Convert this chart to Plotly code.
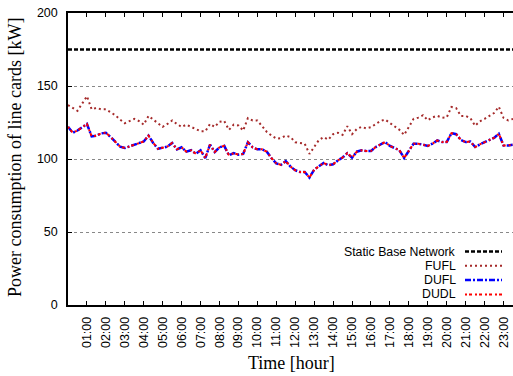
import plotly.graph_objects as go

# time grid: every 15 minutes from 00:00 to 23:30 (hours)
hours = [i * 0.25 for i in range(95)]

static_base = [175] * 95

fufl = [137, 135, 133, 138, 143, 134, 135, 134,
        134, 132, 130, 127, 124.5, 126, 127.5, 126,
        123.5, 129.5, 127, 124.5, 122, 124, 126.4, 124,
        122, 123.5, 122, 120, 119, 119, 124, 122,
        125.5, 126, 120, 123.5, 123, 119.5, 128, 126.4,
        126.4, 122.5, 118.5, 116, 114, 114.3, 116, 115,
        111.5, 111, 110.5, 103.5, 108, 113, 115, 113.3,
        117, 118, 116.5, 122.5, 117, 120.5, 122, 121,
        121.8, 124, 126, 127, 124.5, 122.5, 120, 116.5,
        122.5, 127.5, 128.3, 130, 126.5, 128.5, 129.6, 128.3,
        128.5, 135.6, 134.8, 129.5, 129.5, 128, 122.8, 125.8,
        127.5, 129.5, 131.5, 135.8, 128.2, 126.5, 127.5]

dufl = [122, 118, 119.5, 121.5, 124, 115.5, 116, 117.5,
        118, 115, 112, 108.5, 107.5, 108.5, 110, 111,
        112, 116, 111, 107, 107.5, 108.5, 111, 106.6,
        108, 105, 106, 103.6, 106, 100.7, 109.8, 104.8,
        108, 109, 102.5, 104, 103, 103.5, 111.5, 108,
        106.6, 106.6, 105, 100.5, 97, 96, 98.5, 94.8,
        92.3, 91.1, 91.1, 87.3, 92.7, 95, 97.3, 95.7,
        96.4, 99, 101, 104, 100.9, 105, 105.9, 105.5,
        105.5, 108.2, 110, 111.6, 109, 107.5, 106, 100.7,
        106, 110.5, 110.5, 110, 109, 110.5, 112.7, 111.6,
        111.6, 117.7, 117, 113, 111.6, 112, 108.2, 110,
        111.6, 113.2, 114.5, 117.3, 109.3, 109.3, 109.8]

dudl = [122, 118, 119.5, 121.5, 124, 115.5, 116, 117.5,
        118, 115, 112, 108.5, 107.5, 108.5, 110, 111,
        112, 116, 111, 107, 107.5, 108.5, 111, 106.6,
        108, 105, 106, 103.6, 106, 100.7, 109.8, 104.8,
        108, 109, 102.5, 104, 103, 103.5, 111.5, 108,
        106.6, 106.6, 105, 100.5, 97, 96, 98.5, 94.8,
        92.3, 91.1, 91.1, 87.3, 92.7, 95, 97.3, 95.7,
        96.4, 99, 101, 104, 100.9, 105, 105.9, 105.5,
        105.5, 108.2, 110, 111.6, 109, 107.5, 106, 100.7,
        106, 110.5, 110.5, 110, 109, 110.5, 112.7, 111.6,
        111.6, 117.7, 117, 113, 111.6, 112, 108.2, 110,
        111.6, 113.2, 114.5, 117.3, 109.3, 109.3, 109.8]

tick_hours = list(range(1, 24))
tick_labels = ["%02d:00" % h for h in tick_hours]
y_ticks = [0, 50, 100, 150, 200]

series_names = ["Static Base Network", "FUFL", "DUFL", "DUDL"]
series_colors = ["#000000", "#a52a2a", "#0000ff", "#ff0000"]
series_dash = ["4px,2px", "2px,3px", "6px,2px,2px,2px", "2px,2px,3px,3px"]
series_width = [2.5, 2, 2.5, 2]
series_data = [static_base, fufl, dufl, dudl]

fig = go.Figure()
for name, col, dash, w, ys in zip(series_names, series_colors, series_dash,
                                  series_width, series_data):
    fig.add_trace(go.Scatter(x=hours, y=ys, mode="lines", name=name,
                             line=dict(color=col, dash=dash, width=w),
                             showlegend=False))

# plot area geometry (pixels) for manual legend
L, R, T, B = 68, 513, 13, 305
W, H = R - L, B - T

def px(xp):
    return (xp - L) / W

def py(yp):
    return (B - yp) / H

shapes = []
annotations = []
leg_y = [251.5, 265.8, 280.1, 294.4]
for name, col, dash, w, yy in zip(series_names, series_colors, series_dash,
                                  series_width, leg_y):
    annotations.append(dict(x=px(457), y=py(yy), xref="paper", yref="paper",
                            text=name, showarrow=False, xanchor="right",
                            yanchor="middle", borderpad=0,
                            font=dict(family="Liberation Sans, Arial", size=12.3,
                                      color="black")))
    shapes.append(dict(type="line", xref="paper", yref="paper",
                       x0=px(465), x1=px(502), y0=py(yy), y1=py(yy),
                       line=dict(color=col, dash=dash, width=w)))

annotations.append(dict(x=px(15), y=py(158), xref="paper", yref="paper",
                        text="Power consumption of line cards [kW]",
                        showarrow=False, textangle=-90, xanchor="center",
                        yanchor="middle",
                        font=dict(family="Liberation Serif, Times New Roman",
                                  size=18, color="black")))
annotations.append(dict(x=px(291), y=py(363), xref="paper", yref="paper",
                        text="Time [hour]", showarrow=False, xanchor="center",
                        yanchor="middle",
                        font=dict(family="Liberation Serif, Times New Roman",
                                  size=18, color="black")))

fig.update_layout(
    width=513, height=376,
    margin=dict(l=L, r=513 - R, t=T, b=376 - B, pad=0),
    plot_bgcolor="white", paper_bgcolor="white",
    shapes=shapes, annotations=annotations,
    font=dict(family="Liberation Sans, Arial", size=13, color="black"),
)
fig.update_xaxes(range=[0, 23.5], tickvals=tick_hours, ticktext=tick_labels,
                 tickangle=-90, showline=True, linecolor="black", linewidth=1.5,
                 mirror="ticks", ticks="inside", ticklen=4, tickcolor="black",
                 showgrid=False, zeroline=False, ticklabelstandoff=5,
                 tickfont=dict(family="Liberation Sans, Arial", size=12.5))
fig.update_yaxes(range=[0, 200], tickvals=y_ticks, showline=True,
                 linecolor="black", linewidth=1.5, ticks="inside", ticklen=4,
                 tickcolor="black", showgrid=True, gridcolor="#888888",
                 griddash="dot", gridwidth=1, zeroline=False,
                 ticklabelstandoff=6,
                 tickfont=dict(family="Liberation Sans, Arial", size=12.5))

fig.write_html("out.html")
